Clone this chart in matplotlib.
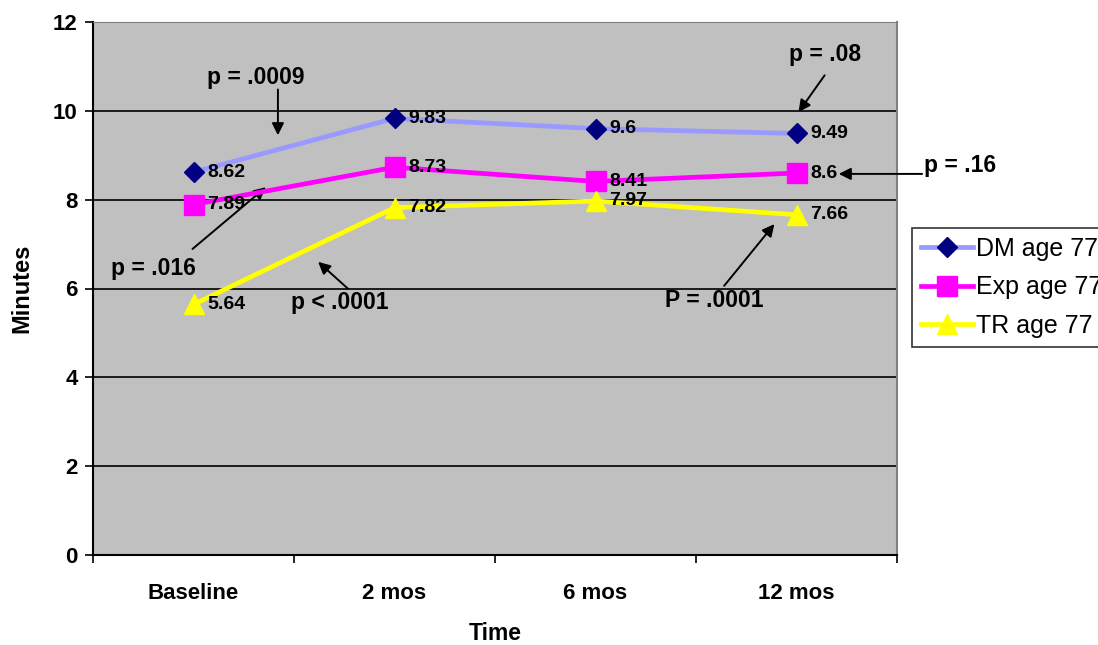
import matplotlib
matplotlib.use('Agg')
import matplotlib.pyplot as plt

# data
categories = ["Baseline", "2 mos", "6 mos", "12 mos"]
dm_vals = [8.62, 9.83, 9.6, 9.49]
exp_vals = [7.89, 8.73, 8.41, 8.6]
tr_vals = [5.64, 7.82, 7.97, 7.66]
series_names = ["DM age 77", "Exp age 77", "TR age 77"]
y_ticks = [0, 2, 4, 6, 8, 10, 12]

plt.rcParams['font.family'] = ['Liberation Sans', 'DejaVu Sans']

fig = plt.figure(figsize=(10.98, 6.45), dpi=100)
ax = fig.add_axes([93 / 1098, 1 - 555 / 645, (897 - 93) / 1098, (555 - 22) / 645])
ax.set_facecolor("#C0C0C0")

x = list(range(len(categories)))
l1, = ax.plot(x, dm_vals, color="#9999FF", lw=3.4, marker="D", ms=10,
              mfc="#000080", mec="#000080", zorder=4)
l2, = ax.plot(x, exp_vals, color="#FF00FF", lw=3.4, marker="s", ms=14,
              mfc="#FF00FF", mec="#FF00FF", zorder=4)
l3, = ax.plot(x, tr_vals, color="#FFFF00", lw=3.4, marker="^", ms=15,
              mfc="#FFFF00", mec="#FFFF00", zorder=4)
lines = [l1, l2, l3]

for vals in (dm_vals, exp_vals, tr_vals):
    for xi, v in zip(x, vals):
        ax.annotate("{:g}".format(v), (xi, v), xytext=(10, 0), textcoords="offset points",
                    va="center", ha="left", fontsize=14, fontweight="bold", zorder=5)

ax.set_xlim(-0.5, 3.5)
ax.set_ylim(0, 12)
ax.set_yticks(y_ticks)
ax.set_yticklabels([str(t) for t in y_ticks], fontsize=16, fontweight="bold")
ax.set_xticks(x)
ax.set_xticklabels(categories, fontsize=16, fontweight="bold")
ax.set_xticks([-0.5, 0.5, 1.5, 2.5, 3.5], minor=True)
ax.tick_params(axis="x", which="major", length=0, pad=20)
ax.tick_params(axis="x", which="minor", length=6, width=1.2, direction="out")
ax.tick_params(axis="y", length=6, width=1.2, pad=5)

for yv in y_ticks[1:-1]:
    ax.axhline(yv, color="black", lw=1.2, zorder=1)

ax.spines["left"].set_color("black")
ax.spines["bottom"].set_color("black")
ax.spines["left"].set_linewidth(1.5)
ax.spines["bottom"].set_linewidth(1.5)
ax.spines["top"].set_color("#808080")
ax.spines["right"].set_color("#808080")
ax.spines["right"].set_linewidth(1.5)

ax.set_ylabel("Minutes", fontsize=17, fontweight="bold", labelpad=14)
ax.set_xlabel("Time", fontsize=16.5, fontweight="bold", labelpad=13)

# p-value annotations (text, then arrow tail -> head)
arrow = dict(arrowstyle="-|>", color="black", lw=1.4, mutation_scale=18,
             shrinkA=0, shrinkB=0)
pfont = dict(fontsize=16.5, fontweight="bold", va="center")

ax.text(0.31, 10.74, "p = .0009", ha="center", **pfont)
ax.annotate("", xy=(0.42, 9.45), xytext=(0.42, 10.48), arrowprops=arrow)

ax.text(-0.2, 6.45, "p = .016", ha="center", **pfont)
ax.annotate("", xy=(0.36, 8.28), xytext=(-0.005, 6.89), arrowprops=arrow)

ax.text(0.73, 5.69, "p < .0001", ha="center", **pfont)
ax.annotate("", xy=(0.62, 6.6), xytext=(0.77, 5.99), arrowprops=arrow)

ax.text(3.14, 11.26, "p = .08", ha="center", **pfont)
ax.annotate("", xy=(3.01, 9.97), xytext=(3.14, 10.8), arrowprops=arrow)

ax.text(3.635, 8.78, "p = .16", ha="left", clip_on=False, **pfont)
ax.annotate("", xy=(3.21, 8.58), xytext=(3.625, 8.58), arrowprops=arrow,
            annotation_clip=False)

ax.text(2.59, 5.74, "P = .0001", ha="center", **pfont)
ax.annotate("", xy=(2.89, 7.45), xytext=(2.64, 6.06), arrowprops=arrow)

leg = fig.legend(lines, series_names, loc="upper left",
                 bbox_to_anchor=(912 / 1098, 1 - 228 / 645),
                 fontsize=18, frameon=True, fancybox=False, edgecolor="black",
                 handlelength=2.1, handletextpad=0.12, labelspacing=0.58,
                 borderpad=0.35, borderaxespad=0)
leg.get_frame().set_linewidth(1.2)

fig.savefig("out.png", dpi=100)
plt.close(fig)
